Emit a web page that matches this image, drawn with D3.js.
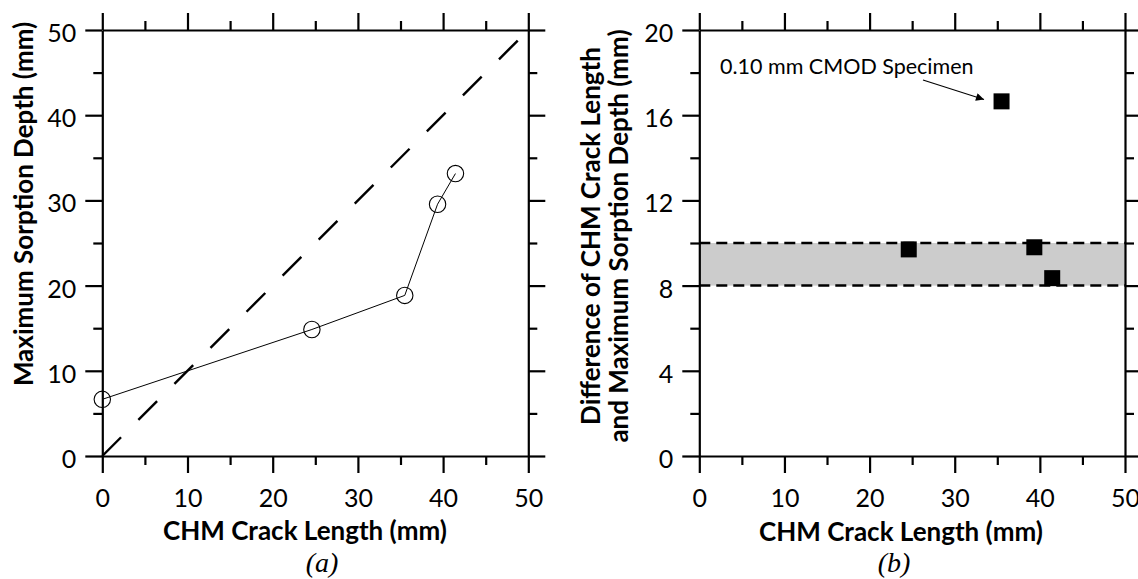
<!DOCTYPE html>
<html>
<head>
<meta charset="utf-8">
<script src="https://cdn.jsdelivr.net/npm/d3@7"></script>
<style>
  html, body { margin: 0; padding: 0; background: #fff; }
  svg { display: block; }
  .tick text { font-family: Lato, "Open Sans", sans-serif; font-size: 25px; fill: #000; }
  .title { font-family: Lato, "Open Sans", sans-serif; font-weight: bold; font-size: 26px; fill: #000; }
  .cap { font-family: "Liberation Serif", "DejaVu Serif", serif; font-style: italic; font-size: 28px; fill: #000; }
  .note { font-family: Lato, "Open Sans", sans-serif; font-size: 21.5px; fill: #000; }
</style>
</head>
<body>
<svg id="chart" width="1138" height="579"></svg>
<script>
// CHM crack length vs. maximum sorption depth for each specimen (mm)
const crackLength   = [0, 24.6, 35.5, 39.35, 41.45];
const sorptionDepth = [6.65, 14.85, 18.85, 29.55, 33.15];

// Panel (b): difference of crack length and sorption depth (specimens with a crack)
const diffCrack = [24.6, 35.5, 39.35, 41.45];
const diffValue = [9.7, 16.65, 9.8, 8.35];

// Band of typical difference values
const bandRange = [8, 10];

// 1:1 reference line
const refLine = [[0, 0], [50, 50]];

// Tick values
const xMajor = [0, 10, 20, 30, 40, 50];
const xMinor = [5, 15, 25, 35, 45];
const yMajorA = [0, 10, 20, 30, 40, 50];
const yMinorA = [5, 15, 25, 35, 45];
const yMajorB = [0, 4, 8, 12, 16, 20];
const yMinorB = [2, 6, 10, 14, 18];

const svg = d3.select("#chart");

const MAJOR = 17, MINOR = 9, AXW = 2.2;

function drawFrame(g, x, y, xMaj, xMin, yMaj, yMin) {
  const [x0, x1] = x.range();
  const [y0, y1] = y.range(); // y0 bottom, y1 top

  const style = sel => {
    sel.selectAll("path.domain").attr("stroke", "#000").attr("stroke-width", AXW);
    sel.selectAll(".tick line").attr("stroke", "#000").attr("stroke-width", AXW);
  };

  // minor ticks (no labels)
  g.append("g").attr("transform", `translate(0,${y0})`)
    .call(d3.axisBottom(x).tickValues(xMin).tickSize(MINOR).tickSizeOuter(0).tickFormat(""))
    .call(style).call(s => s.select(".domain").remove());
  g.append("g").attr("transform", `translate(0,${y1})`)
    .call(d3.axisTop(x).tickValues(xMin).tickSize(MINOR).tickSizeOuter(0).tickFormat(""))
    .call(style).call(s => s.select(".domain").remove());
  g.append("g").attr("transform", `translate(${x0},0)`)
    .call(d3.axisLeft(y).tickValues(yMin).tickSize(MINOR).tickSizeOuter(0).tickFormat(""))
    .call(style).call(s => s.select(".domain").remove());
  g.append("g").attr("transform", `translate(${x1},0)`)
    .call(d3.axisRight(y).tickValues(yMin).tickSize(MINOR).tickSizeOuter(0).tickFormat(""))
    .call(style).call(s => s.select(".domain").remove());

  // major ticks
  g.append("g").attr("transform", `translate(0,${y0})`)
    .call(d3.axisBottom(x).tickValues(xMaj).tickSize(MAJOR).tickSizeOuter(0).tickPadding(16).tickFormat(d3.format("d")))
    .call(style);
  g.append("g").attr("transform", `translate(0,${y1})`)
    .call(d3.axisTop(x).tickValues(xMaj).tickSize(MAJOR).tickSizeOuter(0).tickFormat(""))
    .call(style);
  g.append("g").attr("transform", `translate(${x0},0)`)
    .call(d3.axisLeft(y).tickValues(yMaj).tickSize(MAJOR).tickSizeOuter(0).tickPadding(9).tickFormat(d3.format("d")))
    .call(style)
    .call(s => s.selectAll(".tick text").attr("dy", "0.46em"));
  g.append("g").attr("transform", `translate(${x1},0)`)
    .call(d3.axisRight(y).tickValues(yMaj).tickSize(MAJOR).tickSizeOuter(0).tickFormat(""))
    .call(style);
}

// ---------- Panel (a) ----------
const xA = d3.scaleLinear().domain([0, 50]).range([102.3, 528.3]);
const yA = d3.scaleLinear().domain([0, 50]).range([456, 30]);
const gA = svg.append("g");

gA.append("path")
  .datum(refLine)
  .attr("d", d3.line().x(d => xA(d[0])).y(d => yA(d[1])))
  .attr("fill", "none").attr("stroke", "#000")
  .attr("stroke-width", 2.4).attr("stroke-dasharray", "26.5,24.5");

const ptsA = crackLength.map((c, i) => [c, sorptionDepth[i]]);
gA.append("path")
  .datum(ptsA)
  .attr("d", d3.line().x(d => xA(d[0])).y(d => yA(d[1])))
  .attr("fill", "none").attr("stroke", "#000").attr("stroke-width", 1);

gA.selectAll("circle.pt").data(ptsA).join("circle")
  .attr("class", "pt")
  .attr("cx", d => xA(d[0])).attr("cy", d => yA(d[1])).attr("r", 8.2)
  .attr("fill", "none").attr("stroke", "#000").attr("stroke-width", 1.1);

drawFrame(gA, xA, yA, xMajor, xMinor, yMajorA, yMinorA);

gA.append("text").attr("class", "title")
  .attr("x", 305).attr("y", 540).attr("text-anchor", "middle")
  .text("CHM Crack Length (mm)");
gA.append("text").attr("class", "title")
  .attr("transform", "translate(33,204) rotate(-90)").attr("text-anchor", "middle")
  .text("Maximum Sorption Depth (mm)");
gA.append("text").attr("class", "cap")
  .attr("x", 322).attr("y", 572).attr("text-anchor", "middle").text("(a)");

// ---------- Panel (b) ----------
const xB = d3.scaleLinear().domain([0, 50]).range([699.3, 1125]);
const yB = d3.scaleLinear().domain([0, 20]).range([456, 30]);
const gB = svg.append("g");

gB.append("rect")
  .attr("x", xB(0)).attr("width", xB(50) - xB(0))
  .attr("y", yB(bandRange[1])).attr("height", yB(bandRange[0]) - yB(bandRange[1]))
  .attr("fill", "#cccccc");

gB.selectAll("line.band").data(bandRange).join("line")
  .attr("class", "band")
  .attr("x1", xB(0)).attr("x2", xB(50))
  .attr("y1", d => yB(d)).attr("y2", d => yB(d))
  .attr("stroke", "#000").attr("stroke-width", 2.5).attr("stroke-dasharray", "11,6");

const SQ = 16;
gB.selectAll("rect.pt").data(diffCrack.map((c, i) => [c, diffValue[i]])).join("rect")
  .attr("class", "pt")
  .attr("x", d => xB(d[0]) - SQ / 2).attr("y", d => yB(d[1]) - SQ / 2)
  .attr("width", SQ).attr("height", SQ).attr("fill", "#000");

drawFrame(gB, xB, yB, xMajor, xMinor, yMajorB, yMinorB);

// annotation for the outlier specimen
svg.append("defs").append("marker")
  .attr("id", "arrow").attr("viewBox", "0 0 10 10")
  .attr("refX", 10).attr("refY", 5)
  .attr("markerWidth", 10).attr("markerHeight", 8)
  .attr("markerUnits", "userSpaceOnUse")
  .attr("orient", "auto")
  .append("path").attr("d", "M0,0 L10,5 L0,10 Z").attr("fill", "#000");

gB.append("text").attr("class", "note")
  .attr("x", 720).attr("y", 74).text("0.10 mm CMOD Specimen");
gB.append("line")
  .attr("x1", 923).attr("y1", 80).attr("x2", 984).attr("y2", 99.5)
  .attr("stroke", "#000").attr("stroke-width", 1.1)
  .attr("marker-end", "url(#arrow)");

gB.append("text").attr("class", "title")
  .attr("x", 901).attr("y", 541).attr("text-anchor", "middle")
  .text("CHM Crack Length (mm)");
gB.append("text").attr("class", "title")
  .attr("transform", "translate(600,236) rotate(-90)").attr("text-anchor", "middle")
  .text("Difference of CHM Crack Length");
gB.append("text").attr("class", "title")
  .attr("transform", "translate(628,236) rotate(-90)").attr("text-anchor", "middle")
  .text("and Maximum Sorption Depth (mm)");
gB.append("text").attr("class", "cap")
  .attr("x", 894).attr("y", 572).attr("text-anchor", "middle").text("(b)");
</script>
</body>
</html>
